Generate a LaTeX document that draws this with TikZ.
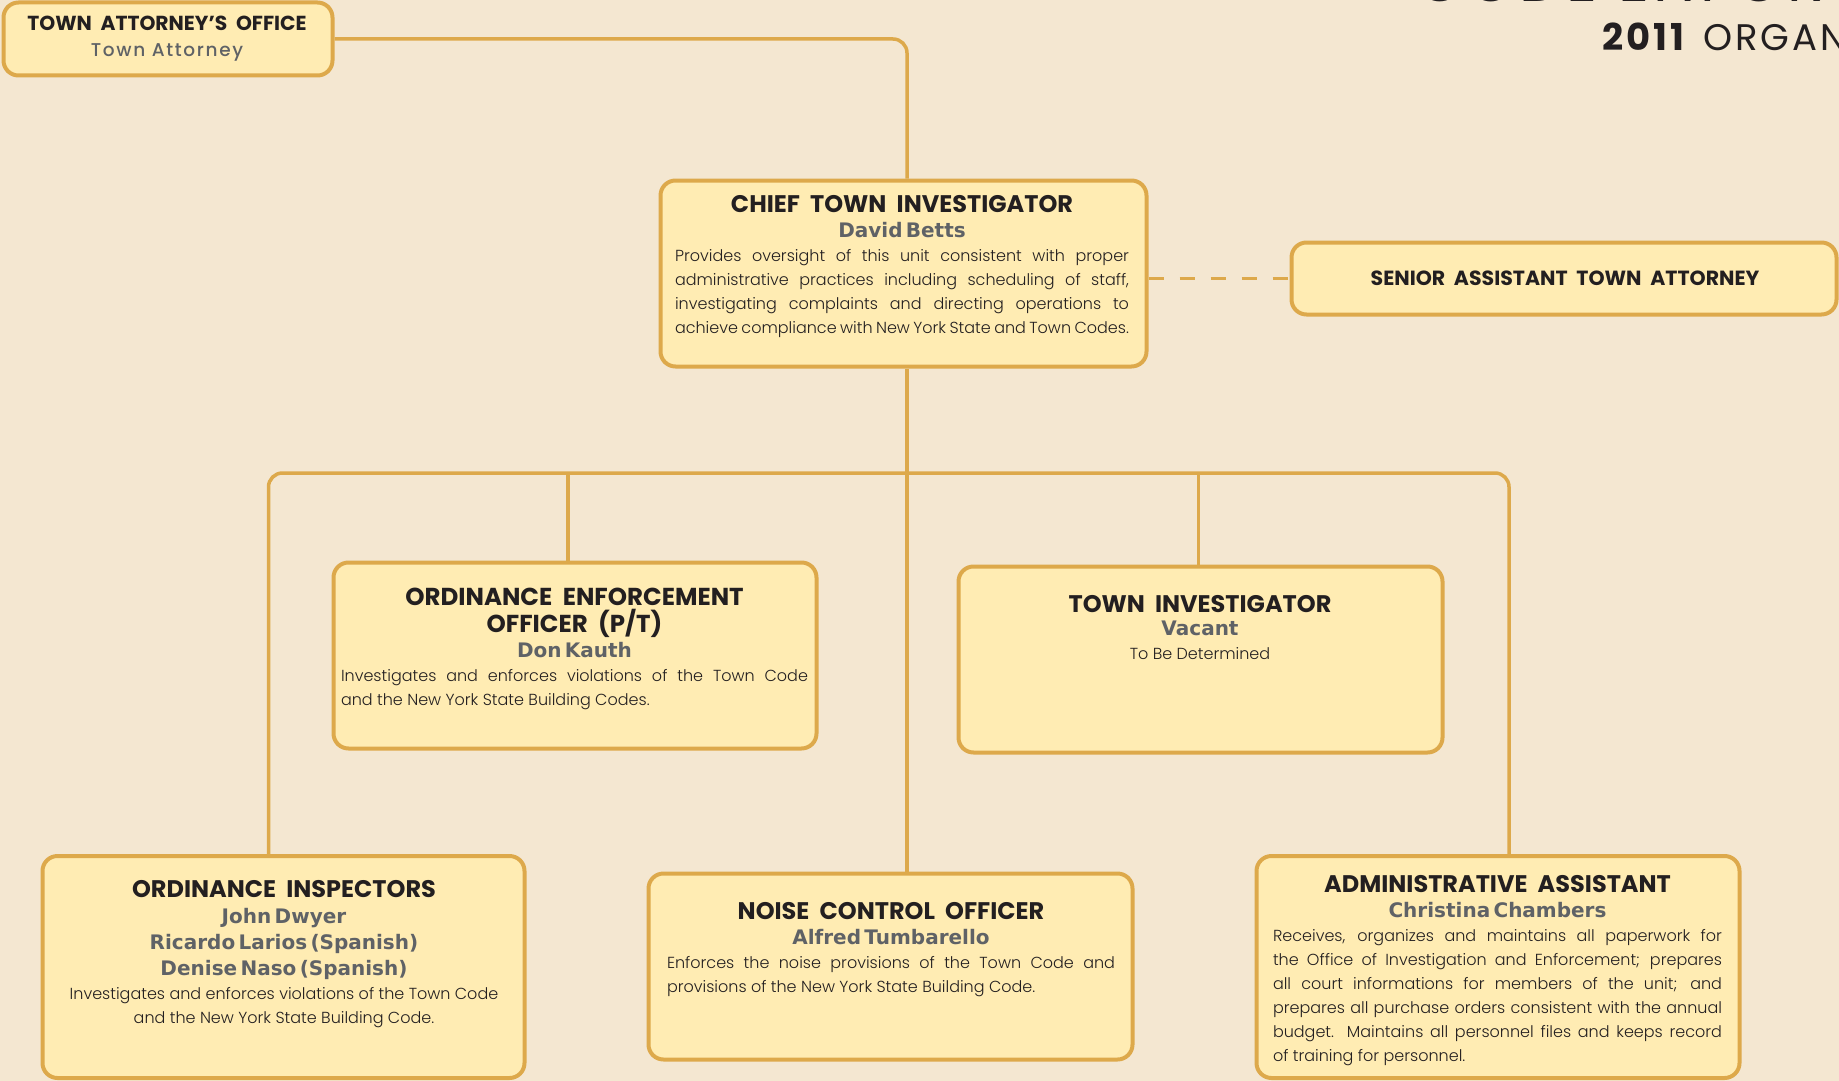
\documentclass[tikz,border=0pt]{standalone}
\usepackage{fontspec}
\setmainfont{Poppins}
\newfontfamily\titlefont{Poppins}[WordSpace=2]
\newfontfamily\headfont{Poppins}[LetterSpace=8]
\newfontfamily\subfont{Poppins Medium}[LetterSpace=9]
\newfontfamily\descfont{Poppins Light}
\newfontfamily\namefont{DejaVu Sans}
\definecolor{paper}{HTML}{F4E7D1}
\definecolor{cardfill}{HTML}{FFECB3}
\definecolor{cardline}{HTML}{DDA94B}
\definecolor{ink}{HTML}{231F20}
\definecolor{namegray}{HTML}{5F6266}
\newcommand\plainspaces{\spaceskip=0pt\xspaceskip=0pt}
\newcommand\cardtitle[2][24]{{\centering\plainspaces\fontsize{#1}{27}\titlefont\bfseries\color{ink}#2\par}}
\newcommand\cardname[2][25]{{\centering\fontsize{20}{#1}\selectfont\namefont\bfseries\color{namegray}#2\par}}
\newcommand\carddesc[1]{{\fontsize{16}{24}\selectfont\descfont\color{ink}\plainspaces
  \leftskip=0pt\rightskip=0pt\parfillskip=0pt plus 1fil #1\par}}
\tolerance=10000
\hbadness=10000
\hyphenpenalty=10000

\begin{document}
\begin{tikzpicture}[x = 1pt, y = -1pt,
  card/.style = {draw = cardline, line width = 4pt, fill = cardfill,
    rounded corners = 15pt, inner sep = 0pt},
  cardtext/.style = {anchor = base, inner sep = 0pt},
  link/.style = {draw = cardline, line width = 3.5pt, rounded corners = 14pt}]
\fill[paper] (0,0) rectangle (1839,1081);
\useasboundingbox (0,0) rectangle (1839,1081);

\node[anchor = base west, inner sep = 0pt, text = ink] (bigTitle) at (1416,2)
  {\fontsize{60}{60}\headfont CODE ENFOR};
\node[anchor = base west, inner sep = 0pt, text = ink] (yearTitle) at (1602,51)
  {\fontsize{37}{37}\headfont\textbf{2011}\hspace{16pt}ORGAN};

\node[card, minimum width = 329, minimum height = 73] (tao) at (168,39) {};
\node[card, minimum width = 486, minimum height = 186] (chief) at (903.5,273.5) {};
\node[card, minimum width = 545, minimum height = 72] (senior) at (1564,278.5) {};
\node[card, minimum width = 483, minimum height = 186] (oeo) at (575,655.5) {};
\node[card, minimum width = 484, minimum height = 186] (ti) at (1200.5,659.5) {};
\node[card, minimum width = 482, minimum height = 222] (insp) at (283.5,967) {};
\node[card, minimum width = 484, minimum height = 186] (noise) at (890.5,966.5) {};
\node[card, minimum width = 483, minimum height = 222] (admin) at (1498,967) {};

\node[cardtext, text width = 320] (taoText) at (167,31)
  {\cardtitle[20.3]{TOWN ATTORNEY’S OFFICE}%
   {\centering\plainspaces\fontsize{18.5}{25}\subfont\color{namegray}Town Attorney\par}};
\node[cardtext, text width = 454] (chiefText) at (902,212)
  {\cardtitle{CHIEF TOWN INVESTIGATOR}\cardname{David Betts}%
   \carddesc{Provides oversight of this unit consistent with proper\linebreak
   administrative practices including scheduling of staff,\linebreak
   investigating complaints and directing operations to\linebreak
   achieve compliance with New York State and Town Codes.}};
\node[cardtext, text width = 520] (seniorText) at (1565,285)
  {\cardtitle[20.5]{SENIOR ASSISTANT TOWN ATTORNEY}};
\node[cardtext, text width = 467] (oeoText) at (574.5,605)
  {\cardtitle[24.5]{ORDINANCE ENFORCEMENT\\OFFICER (P/T)}\cardname{Don Kauth}%
   \carddesc{Investigates and enforces violations of the Town Code\linebreak
   and the New York State Building Codes.}};
\node[cardtext, text width = 460] (tiText) at (1200,612)
  {\cardtitle{TOWN INVESTIGATOR}\cardname[23]{Vacant}%
   \carddesc{\centering To Be Determined}};
\node[cardtext, text width = 470] (inspText) at (284,897)
  {\cardtitle{ORDINANCE INSPECTORS}%
   \cardname[26]{John Dwyer\\Ricardo Larios (Spanish)\\Denise Naso (Spanish)}%
   \carddesc{\centering Investigates and enforces violations of the Town Code\\
   and the New York State Building Code.}};
\node[cardtext, text width = 448] (noiseText) at (891,919)
  {\cardtitle{NOISE CONTROL OFFICER}\cardname{Alfred Tumbarello}%
   \carddesc{Enforces the noise provisions of the Town Code and\linebreak
   provisions of the New York State Building Code.}};
\node[cardtext, text width = 449] (adminText) at (1497.5,892)
  {\cardtitle{ADMINISTRATIVE ASSISTANT}\cardname{Christina Chambers}%
   \carddesc{Receives, organizes and maintains all paperwork for\linebreak
   the Office of Investigation and Enforcement; prepares\linebreak
   all court informations for members of the unit; and\linebreak
   prepares all purchase orders consistent with the annual\linebreak
   budget.  Maintains all personnel files and keeps record\linebreak
   of training for personnel.}};

\coordinate (bus) at (907,473);
\draw[link] (tao.east) -| (chief.north -| bus);
\draw[link, rounded corners = 0pt, dash pattern = on 15.5pt off 15.5pt]
  (chief.east |- senior.west) -- (senior.west);
\draw[link] (chief.south -| bus) -- (noise.north -| bus);
\draw[link] ([xshift = -15pt]insp.north) |- (bus) -| ([xshift = 11pt]admin.north);
\draw[link] ([xshift = -7pt]oeo.north) -- ([xshift = -7pt]oeo.north |- bus);
\draw[link] ([xshift = -2pt]ti.north) -- ([xshift = -2pt]ti.north |- bus);
\end{tikzpicture}
\end{document}
